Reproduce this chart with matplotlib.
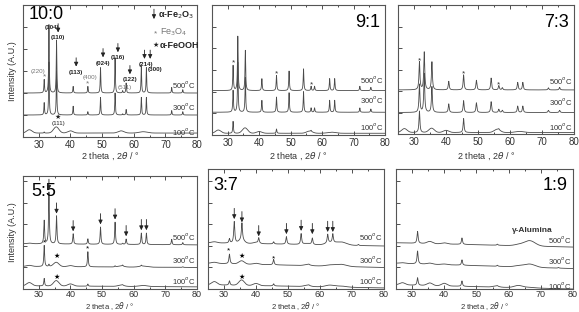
import numpy as np
import matplotlib.pyplot as plt
from matplotlib.ticker import MultipleLocator

plt.rcParams['font.family'] = ['Liberation Sans', 'DejaVu Sans']

W, H = 579, 312
two_theta = np.linspace(25, 80, 2751)
temps = ['500$^o$C', '300$^o$C', '100$^o$C']

# sharp reflections (hematite + the peaks marked Fe3O4) and broad humps
sharp_pos = [24.1, 31.7, 33.2, 35.6, 40.85, 45.5, 49.5, 54.1, 56.5, 57.6, 62.4, 64.0, 72.0, 75.5]
hump_pos = [27.0, 35.5, 40.0, 56.0, 63.0, 66.5]
hump_fwhm = [2.0, 2.0, 2.0, 2.2, 3.0, 4.0]

# peak heights, rows = 500, 300, 100 C
sharp_10_0 = [[0.05, 0.6, 3.1, 2.4, 0.3, 0.3, 1.15, 1.6, 0.1, 0.45, 1.2, 1.15, 0.25, 0.15],
              [0.05, 0.55, 2.4, 2.0, 0.4, 0.15, 0.8, 1.0, 0.05, 0.25, 0.8, 0.8, 0.2, 0.15],
              [0, 0.05, 0, 0, 0, 0, 0, 0, 0, 0, 0, 0, 0, 0]]
hump_10_0 = [[0, 0, 0, 0, 0, 0], [0, 0, 0, 0, 0, 0], [0.15, 0.28, 0.1, 0.1, 0.06, 0]]

sharp_9_1 = [[0.05, 1.15, 2.5, 1.85, 0.55, 0.7, 0.9, 1.0, 0.2, 0.2, 0.55, 0.55, 0.2, 0.15],
             [0.05, 1.0, 2.3, 1.6, 0.55, 0.7, 0.9, 0.95, 0.2, 0.2, 0.55, 0.55, 0.2, 0.15],
             [0, 0.55, 0, 0, 0, 0.2, 0, 0, 0.05, 0, 0, 0, 0, 0]]
hump_9_1 = [[0, 0, 0, 0, 0, 0], [0, 0, 0, 0, 0, 0], [0.15, 0.25, 0.08, 0.1, 0.05, 0]]

sharp_7_3 = [[0.08, 1.3, 1.75, 1.3, 0.4, 0.7, 0.45, 0.55, 0.2, 0.1, 0.35, 0.35, 0.1, 0.12],
             [0.08, 1.3, 1.8, 1.2, 0.4, 0.55, 0.45, 0.5, 0.15, 0.1, 0.3, 0.3, 0.1, 0.1],
             [0, 1.0, 0, 0, 0, 0.65, 0, 0, 0.05, 0, 0, 0, 0, 0]]
hump_7_3 = [[0, 0, 0, 0, 0, 0], [0, 0, 0, 0, 0, 0], [0.18, 0.2, 0.1, 0.15, 0.05, 0]]

sharp_5_5 = [[0.03, 1.08, 2.4, 1.3, 0.48, 0.25, 0.8, 1.03, 0.05, 0.25, 0.53, 0.53, 0.25, 0.1],
             [0, 0.98, 0.1, 0, 0, 0.7, 0, 0.05, 0.05, 0, 0.05, 0, 0, 0.03],
             [0, 0.35, 0, 0, 0, 0.1, 0, 0, 0.03, 0, 0, 0, 0, 0]]
hump_5_5 = [[0.03, 0, 0, 0, 0, 0], [0.05, 0.2, 0.05, 0.05, 0.05, 0], [0.15, 0.25, 0.1, 0.06, 0.05, 0]]

sharp_3_7 = [[0, 0.2, 1.0, 0.8, 0.25, 0.1, 0.35, 0.5, 0, 0.3, 0.4, 0.4, 0.05, 0],
             [0, 0.45, 0, 0, 0, 0.25, 0, 0, 0.03, 0, 0, 0, 0, 0],
             [0, 0.2, 0, 0, 0, 0.1, 0, 0, 0.03, 0, 0, 0, 0, 0]]
hump_3_7 = [[0.05, 0.15, 0.05, 0.05, 0.1, 0.15], [0.05, 0.15, 0.05, 0.05, 0.05, 0.1],
            [0.15, 0.25, 0.1, 0.06, 0.08, 0.05]]

sharp_1_9 = [[0, 0.55, 0, 0, 0, 0.3, 0, 0, 0.05, 0, 0, 0, 0, 0],
             [0, 0.6, 0, 0, 0, 0.25, 0, 0, 0.05, 0, 0, 0, 0, 0.03],
             [0, 0.35, 0, 0, 0, 0.25, 0, 0, 0.03, 0, 0, 0, 0, 0]]
hump_1_9 = [[0, 0.1, 0.05, 0, 0.05, 0.25], [0.03, 0.05, 0.03, 0, 0.05, 0.15],
            [0.1, 0.12, 0.12, 0.05, 0.1, 0.03]]

# baseline offsets at 25 and 80 degrees
base_start = [[2.0, 1.0, 0.18], [2.05, 1.05, 0.08], [2.05, 1.0, 0.07],
              [2.1, 1.05, 0.15], [2.15, 1.2, 0.2], [2.15, 1.2, 0.2]]
base_end = [[2.0, 1.0, 0.18], [2.05, 1.05, 0.08], [2.05, 1.0, 0.07],
            [2.05, 1.0, 0.1], [2.0, 1.0, 0.05], [1.95, 0.95, 0.0]]

ratios = ['10:0', '9:1', '7:3', '5:5', '3:7', '1:9']
sharp_all = [sharp_10_0, sharp_9_1, sharp_7_3, sharp_5_5, sharp_3_7, sharp_1_9]
hump_all = [hump_10_0, hump_9_1, hump_7_3, hump_5_5, hump_3_7, hump_1_9]
fwhm_all = [0.22, 0.25, 0.35, 0.3, 0.4, 0.4]

# axes boxes in pixels: left, top, right, bottom
boxes = [(23, 5, 197, 137), (212, 5, 385, 135), (398, 5, 574, 134),
         (23, 176, 197, 289), (208, 169, 384, 289), (396, 169, 573, 289)]
ytops = [6, 6, 6, 5.25, 5.58, 5.58]
xlabel_top = [151, 151, 151, 300, 300, 300]
label_pos = [(0.03, 0.99, 'left'), (0.97, 0.93, 'right'), (0.97, 0.93, 'right'),
             (0.05, 0.94, 'left'), (0.03, 0.93, 'left'), (0.97, 0.93, 'right')]
temp_y = [[2.4, 1.4, 0.27], [2.58, 1.66, 0.41], [2.47, 1.5, 0.37],
          [2.44, 1.38, 0.41], [2.44, 1.38, 0.41], [2.3, 1.33, 0.18]]

LC = '#4a4a4a'


def pattern(sh, hh, fwhm, b0, b1):
    y = b0 + (b1 - b0) * (two_theta - 25) / 55
    for p, h in zip(sharp_pos, sh):
        y = y + h / (1 + ((two_theta - p) / (fwhm / 2)) ** 2)
    for p, h, w in zip(hump_pos, hh, hump_fwhm):
        y = y + h * np.exp(-4 * np.log(2) * ((two_theta - p) / w) ** 2)
    return y


def arrow(ax, x, y, length=0.4, color='#222222'):
    ax.annotate('', xy=(x, y), xytext=(x, y + length),
                arrowprops=dict(arrowstyle='-|>,head_length=0.25,head_width=0.12',
                                lw=0.6, color=color, shrinkA=0, shrinkB=0))


fig = plt.figure(figsize=(W / 100, H / 100), dpi=100)
axes = []
for i in range(6):
    l, t, r, b = boxes[i]
    ax = fig.add_axes([l / W, 1 - b / H, (r - l) / W, (b - t) / H])
    axes.append(ax)
    for k in range(3):
        y = pattern(sharp_all[i][k], hump_all[i][k], fwhm_all[i], base_start[i][k], base_end[i][k])
        ax.plot(two_theta, y, color=LC, lw=0.6)
        ax.text(79.5, temp_y[i][k], temps[k], fontsize=5.5, ha='right', va='center', color='#333333')
    ax.set_xlim(25, 80)
    ax.set_ylim(0, ytops[i])
    ax.set_xticks([30, 40, 50, 60, 70, 80])
    ax.xaxis.set_minor_locator(MultipleLocator(5))
    ax.yaxis.set_major_locator(MultipleLocator(1))
    ax.tick_params(direction='in', top=True, right=False, labelleft=False,
                   length=3, width=0.6, labelsize=7 if i < 3 else 6.5,
                   pad=2 if i < 3 else 1, colors='#333333')
    ax.tick_params(which='minor', direction='in', top=True, length=1.5, width=0.5)
    for s in ax.spines.values():
        s.set_linewidth(0.8)
        s.set_color('#555555')
    ax.set_xlabel('2 theta , 2$\\theta$ / °', fontsize=6.5 if i < 3 else 5.5, color='#333333')
    ax.xaxis.set_label_coords(0.5, (b - xlabel_top[i]) / (b - t))
    lx, ly, ha = label_pos[i]
    ax.text(lx, ly, ratios[i], transform=ax.transAxes, fontsize=13, ha=ha, va='top')

axes[0].set_ylabel('Intensity (A.U.)', fontsize=6.5, labelpad=4, color='#333333')
axes[3].set_ylabel('Intensity (A.U.)', fontsize=6.5, labelpad=4, color='#333333')

# 10:0 panel annotations
ax = axes[0]
miller = ['(104)', '(110)', '(113)', '(024)', '(116)', '(122)', '(214)', '(300)']
miller_x = [34.3, 36.1, 41.8, 50.3, 55.0, 58.8, 63.9, 66.7]
miller_y = [4.98, 4.5, 2.95, 3.36, 3.6, 2.6, 3.3, 3.05]
for name, x, y in zip(miller, miller_x, miller_y):
    ax.text(x, y, name, fontsize=4.5, ha='center', va='center', fontweight='bold', color='#222222')
for x, y in zip([36.1, 41.8, 50.3, 55.0, 58.8, 63.4, 65.2], [4.75, 3.2, 3.62, 3.85, 2.85, 3.55, 3.55]):
    arrow(ax, x, y, 0.4)
fe3o4 = ['(220)', '(400)', '(511)']
fe3o4_x = [29.8, 46.2, 57.2]
fe3o4_y = [3.0, 2.72, 2.27]
for name, x, y in zip(fe3o4, fe3o4_x, fe3o4_y):
    ax.text(x, y, name, fontsize=4.5, ha='center', va='center', color='#777777')
ax.text(31.7, 2.75, '*', fontsize=6, ha='center', va='center', color='#777777')
ax.text(45.5, 2.4, '*', fontsize=6, ha='center', va='center', color='#777777')
ax.text(36.1, 0.88, '★', fontsize=5, ha='center', va='center', color='#222222')
ax.text(36.1, 0.6, '(111)', fontsize=4.5, ha='center', va='center', color='#222222')
# legend
arrow(ax, 66.4, 5.36, 0.45)
ax.text(67.6, 5.55, 'α-Fe$_2$O$_3$', fontsize=6.5, fontweight='bold', va='center', color='#222222')
ax.text(67.0, 4.7, '*', fontsize=6, ha='center', va='center', color='#777777')
ax.text(68.3, 4.75, 'Fe$_3$O$_4$', fontsize=6.5, va='center', color='#777777')
ax.text(66.9, 4.18, '★', fontsize=5, ha='center', va='center', color='#222222')
ax.text(68.3, 4.18, 'α-FeOOH', fontsize=6.5, fontweight='bold', va='center', color='#222222')

# Fe3O4 marks on 9:1 and 7:3
for ax, ys in zip([axes[1], axes[2]], [[3.35, 2.8, 2.3], [3.4, 2.8, 2.3]]):
    for x, y in zip([31.7, 45.5, 56.5], ys):
        ax.text(x, y, '*', fontsize=6, ha='center', va='center', color='#333333')

# hematite arrows on 5:5 and 3:7
hem_x = [33.2, 35.6, 40.85, 49.5, 54.1, 57.6, 62.4, 64.0]
tops_5_5 = [4.6, 3.5, 2.68, 3.0, 3.23, 2.45, 2.73, 2.73]
tops_3_7 = [3.25, 3.1, 2.45, 2.55, 2.7, 2.55, 2.65, 2.65]
for x, y in zip(hem_x, tops_5_5):
    arrow(axes[3], x, y, 0.5)
for x, y in zip(hem_x, tops_3_7):
    arrow(axes[4], x, y, 0.5)
axes[3].text(35.8, 1.52, '★', fontsize=5, ha='center', va='center')
axes[3].text(35.8, 0.55, '★', fontsize=5, ha='center', va='center')
axes[3].text(31.7, 2.15, '*', fontsize=6, ha='center', va='center')
axes[3].text(45.5, 1.85, '*', fontsize=6, ha='center', va='center')
axes[4].text(31.5, 1.75, '*', fontsize=6, ha='center', va='center')
axes[4].text(35.6, 1.52, '★', fontsize=5, ha='center', va='center')
axes[4].text(45.5, 1.38, '*', fontsize=6, ha='center', va='center')
axes[4].text(35.6, 0.55, '★', fontsize=5, ha='center', va='center')

axes[5].text(67.3, 2.72, 'γ-Alumina', fontsize=6, fontweight='bold', ha='center', va='center', color='#333333')

fig.savefig('out.png', dpi=100)
